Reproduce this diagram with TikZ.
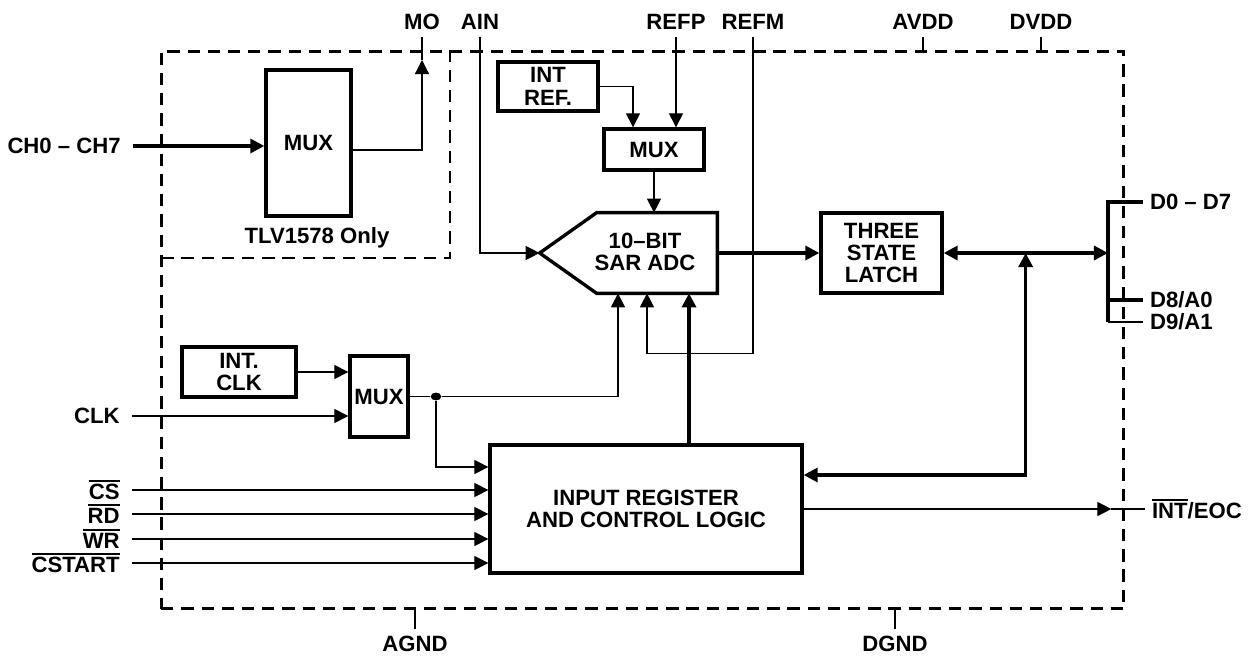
\documentclass[tikz,border=0pt]{standalone}
\usepackage{fontspec}
\setmainfont{Liberation Sans}
\usepackage{tikz}
\usetikzlibrary{arrows.meta,positioning,shapes.geometric,calc}
\newcommand{\ovbar}[1]{\vbox{\hrule height 1pt\kern1.3pt\hbox{#1}}}
\tikzset{
  block/.style={draw,line width=1.9pt,inner sep=1pt,align=center,
    font=\bfseries\fontsize{12.6}{12.8}\selectfont},
  chipframe/.style={draw,line width=1.7pt,dash pattern=on 7pt off 4.5pt},
  lab/.style={inner sep=0pt,outer sep=4pt,font=\bfseries\fontsize{12.6}{12.8}\selectfont},
  lableft/.style={lab,outer sep=7pt,anchor=east},
  labright/.style={lab,anchor=west},
  labtop/.style={lab,anchor=south},
  labbot/.style={lab,anchor=north},
  sig/.style={line width=0.7pt},
  bus/.style={line width=1.8pt},
  arr/.style={-{Triangle[length=8pt,width=8pt]}},
  twoway/.style={{Triangle[length=8pt,width=8pt]}-{Triangle[length=8pt,width=8pt]}},
  junction/.style={ellipse,fill,inner sep=0pt,minimum width=6pt,minimum height=4.5pt}
}

\begin{document}
\begin{tikzpicture}[x=0.02cm,y=-0.02cm]
  \useasboundingbox (0,0) rectangle (1251,658);
  % device outline and the TLV1578-only corner
  \node[chipframe,minimum width=19.26cm,minimum height=11.16cm] (chip) at (642.5,330) {};
  \coordinate (tlvcorner) at (450,258);
  \draw[chipframe] (chip.north -| tlvcorner) -- (tlvcorner) -- (tlvcorner -| chip.west);

  % blocks
  \node[block,minimum width=1.7cm,minimum height=2.92cm] (mux1) at (308.5,143) {MUX};
  \node[lab] (tlv) at (317,238) {TLV1578 Only};
  \node[block,minimum width=2cm,minimum height=0.98cm] (intref) at (548,86.5) {INT\\REF.};
  \node[block,minimum width=2cm,minimum height=0.82cm] (mux2) at (654,149.5) {MUX};
  \node[minimum width=2.4cm,minimum height=1.6cm,inner sep=0pt] (adc) at (657,253) {};
  \coordinate (adctip) at ($(adc.west)+(-57,0)$);
  \draw[line width=1.9pt] (adc.north west) -- (adc.north east) -- (adc.south east)
    -- (adc.south west) -- (adctip) -- cycle;
  \node[block,draw=none] (adctext) at (645,252) {10–BIT\\SAR ADC};
  \node[block,minimum width=2.42cm,minimum height=1.6cm] (latch) at (881.5,253) {THREE\\STATE\\LATCH};
  \node[block,minimum width=2.28cm,minimum height=1cm] (intclk) at (239,372) {INT.\\CLK};
  \node[block,minimum width=1.16cm,minimum height=1.62cm] (mux3) at (379,396.5) {MUX};
  \node[block,minimum width=6.24cm,minimum height=2.56cm] (inreg) at (646,509)
    {INPUT REGISTER\\AND CONTROL LOGIC};

  % pin names
  \node[lableft] (chlab) at (133,146) {CH0 – CH7};
  \node[lableft] (clklab) at (132,416) {CLK};
  \node[lableft] (cs) at (132,490) {\ovbar{CS}};
  \node[lableft] (rd) at (132,514) {\ovbar{RD}};
  \node[lableft] (wr) at (132,539) {\ovbar{WR}};
  \node[lableft] (cstart) at (132,563) {\ovbar{CSTART}};
  \node[labtop] (mo) at (422,37) {MO};
  \node[labtop] (ain) at (480,37) {AIN};
  \node[labtop] (refp) at (676,37) {REFP};
  \node[labtop] (refm) at (753,37) {REFM};
  \node[labtop] (avdd) at (923,37) {AVDD};
  \node[labtop] (dvdd) at (1041,37) {DVDD};
  \node[labbot] (agnd) at (415,629) {AGND};
  \node[labbot] (dgnd) at (895,629) {DGND};
  \node[labright] (d07) at (1143,202) {D0 – D7};
  \node[labright] (d8) at (1143,300) {D8/A0};
  \node[labright] (d9) at (1143,322) {D9/A1};
  \node[labright] (eoc) at (1145,509) {\ovbar{INT}/EOC};

  % analog side
  \draw[bus,arr] (chlab.east) -- (chlab.east -| mux1.west);
  \coordinate (moarr) at (422,60);
  \draw[sig,arr] ($(mux1.east)+(0,7)$) -| (moarr);
  \draw[sig] (moarr) -- (mo.south);
  \draw[sig,arr] (intref.east) -| ($(mux2.north)+(-21,0)$);
  \draw[sig,arr] (refp.south) -- (refp.south |- mux2.north);
  \draw[sig,arr] (mux2.south) -- (mux2.south |- adc.north);
  \draw[sig,arr] (ain.south) |- (adctip);
  \coordinate (pinA) at ($(adc.south)+(-39,0)$);
  \coordinate (pinB) at ($(adc.south)+(-10,0)$);
  \coordinate (pinC) at ($(adc.south)+(32,0)$);
  \draw[sig,arr] (refm.south) |- ($(pinB)+(0,60)$) -- (pinB);
  \draw[bus,arr] (adc.east) -- (latch.west);

  % clock and control
  \node[junction] (clkdot) at (436,396.5) {};
  \draw[sig,arr] (intclk.east) -- (intclk.east -| mux3.west);
  \draw[sig,arr] (clklab.east) -- (clklab.east -| mux3.west);
  \draw[sig] (mux3.east) -- (clkdot);
  \draw[sig,arr] (clkdot) -| (pinA);
  \draw[sig,arr] (clkdot) |- ($(inreg.west)+(0,-42)$);
  \foreach \s in {cs,rd,wr,cstart}
    \draw[sig,arr] (\s.east) -- (\s.east -| inreg.west);
  \draw[bus,arr] (inreg.north -| pinC) -- (pinC);

  % data bus
  \coordinate (busbot) at (1108,322);
  \coordinate (busjn) at ($(latch.east)+(82,0)$);
  \draw[bus,twoway] (latch.east) -- (latch.east -| busbot);
  \draw[bus,twoway] ($(inreg.east)+(0,-34)$) -| (busjn);
  \draw[bus] (d07.west) -| (busbot);
  \draw[bus] (d8.west -| busbot) -- (d8.west);
  \draw[sig] (busbot) -- (d9.west);
  \coordinate (eocarr) at ($(inreg.east -| chip.east)+(-14,0)$);
  \draw[sig,arr] (inreg.east) -- (eocarr);
  \draw[sig] (eocarr) -- (eoc.west);

  % supplies and grounds
  \foreach \p in {avdd,dvdd}
    \draw[sig] (\p.south) -- (\p.south |- chip.north);
  \foreach \p in {agnd,dgnd}
    \draw[sig] (\p.north) -- (\p.north |- chip.south);
\end{tikzpicture}
\end{document}
